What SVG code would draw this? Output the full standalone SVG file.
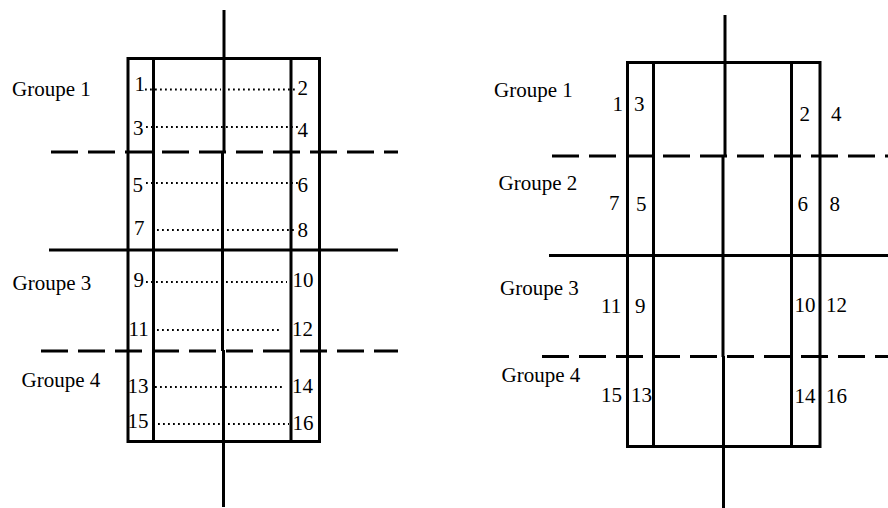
<svg xmlns="http://www.w3.org/2000/svg" width="888" height="508" viewBox="0 0 888 508">
  <style>
    .ln { stroke: #000; stroke-width: 3; fill: none; }
    .dash { stroke: #000; stroke-width: 3; fill: none; stroke-dasharray: 27 10; }
    .dot { stroke: #000; stroke-width: 2; fill: none; stroke-dasharray: 1.8 3.2; }
    .t { font-family: "Liberation Serif", "Times New Roman", serif; font-size: 21px; fill: #000; }
  </style>
  <rect width="888" height="508" fill="#fff"/>

  <!-- Left scheme: paired positions linked across the central axis -->
  <g id="left-scheme">
    <g id="left-frame">
      <rect class="ln" x="128" y="58.5" width="191.5" height="383"/>
      <line class="ln" x1="153.5" y1="58.5" x2="153.5" y2="441.5"/>
      <line class="ln" x1="291" y1="58.5" x2="291" y2="441.5"/>
    </g>
    <g id="left-axes">
      <line class="ln" x1="224" y1="10" x2="224" y2="153" stroke-width="2.6"/>
      <line class="ln" x1="222.5" y1="152" x2="222.5" y2="351" stroke-width="3.8"/>
      <line class="ln" x1="223.5" y1="350" x2="223.5" y2="507" stroke-width="2.8"/>
      <line class="dash" x1="51" y1="152" x2="398" y2="152"/>
      <line class="ln" x1="49" y1="250" x2="398" y2="250"/>
      <line class="dash" x1="41" y1="351" x2="398" y2="351"/>
    </g>
    <g id="left-links">
      <line class="dot" x1="145" y1="89.5" x2="221" y2="89.5"/>
      <line class="dot" x1="228" y1="89.5" x2="296" y2="89.5"/>
      <line class="dot" x1="146" y1="127" x2="298" y2="127"/>
      <line class="dot" x1="146" y1="183" x2="298" y2="183"/>
      <line class="dot" x1="152" y1="230" x2="297" y2="230"/>
      <line class="dot" x1="146" y1="282" x2="287" y2="282"/>
      <line class="dot" x1="152" y1="330" x2="282" y2="330"/>
      <line class="dot" x1="155" y1="387" x2="285" y2="387"/>
      <line class="dot" x1="158" y1="424" x2="289" y2="424"/>
    </g>
    <g id="left-groups">
      <text class="t" x="12" y="95.5">Groupe 1</text>
      <text class="t" x="12.5" y="290">Groupe 3</text>
      <text class="t" x="21.5" y="387">Groupe 4</text>
    </g>
    <g id="left-numbers">
      <text class="t" x="134.5" y="91">1</text>
      <text class="t" x="297.5" y="95">2</text>
      <text class="t" x="133" y="135">3</text>
      <text class="t" x="297.5" y="136.5">4</text>
      <text class="t" x="132.5" y="191.5">5</text>
      <text class="t" x="297.5" y="191.5">6</text>
      <text class="t" x="134" y="235">7</text>
      <text class="t" x="297.5" y="236.5">8</text>
      <text class="t" x="133.5" y="286.5">9</text>
      <text class="t" x="292.5" y="286.5">10</text>
      <text class="t" x="128.5" y="336">11</text>
      <text class="t" x="292" y="336">12</text>
      <text class="t" x="127.5" y="393">13</text>
      <text class="t" x="292" y="393">14</text>
      <text class="t" x="127.5" y="428">15</text>
      <text class="t" x="292.5" y="430">16</text>
    </g>
  </g>

  <!-- Right scheme: positions grouped by band -->
  <g id="right-scheme">
    <g id="right-frame">
      <rect class="ln" x="627.5" y="62.5" width="192.5" height="384"/>
      <line class="ln" x1="653.5" y1="62.5" x2="653.5" y2="446.5"/>
      <line class="ln" x1="791.5" y1="62.5" x2="791.5" y2="446.5"/>
    </g>
    <g id="right-axes">
      <line class="ln" x1="725" y1="15" x2="725" y2="157" stroke-width="2.6"/>
      <line class="ln" x1="723" y1="155" x2="723" y2="357" stroke-width="3.8"/>
      <line class="ln" x1="723.5" y1="356" x2="723.5" y2="508" stroke-width="2.8"/>
      <line class="dash" x1="552" y1="156" x2="888" y2="156"/>
      <line class="ln" x1="549" y1="255.5" x2="888" y2="255.5"/>
      <line class="dash" x1="542" y1="356.5" x2="888" y2="356.5"/>
    </g>
    <g id="right-groups">
      <text class="t" x="494" y="96.5">Groupe 1</text>
      <text class="t" x="498.5" y="190">Groupe 2</text>
      <text class="t" x="500" y="295">Groupe 3</text>
      <text class="t" x="501.5" y="382">Groupe 4</text>
    </g>
    <g id="right-numbers">
      <text class="t" x="612.5" y="111">1</text>
      <text class="t" x="634" y="111">3</text>
      <text class="t" x="799.5" y="120.5">2</text>
      <text class="t" x="831" y="120.5">4</text>
      <text class="t" x="609" y="209.5">7</text>
      <text class="t" x="636" y="211">5</text>
      <text class="t" x="797.5" y="211">6</text>
      <text class="t" x="829.5" y="211">8</text>
      <text class="t" x="601" y="313">11</text>
      <text class="t" x="635" y="313">9</text>
      <text class="t" x="794.5" y="311.5">10</text>
      <text class="t" x="826" y="311.5">12</text>
      <text class="t" x="601" y="401.5">15</text>
      <text class="t" x="631" y="401.5">13</text>
      <text class="t" x="794.5" y="403">14</text>
      <text class="t" x="826" y="403">16</text>
    </g>
  </g>
</svg>
